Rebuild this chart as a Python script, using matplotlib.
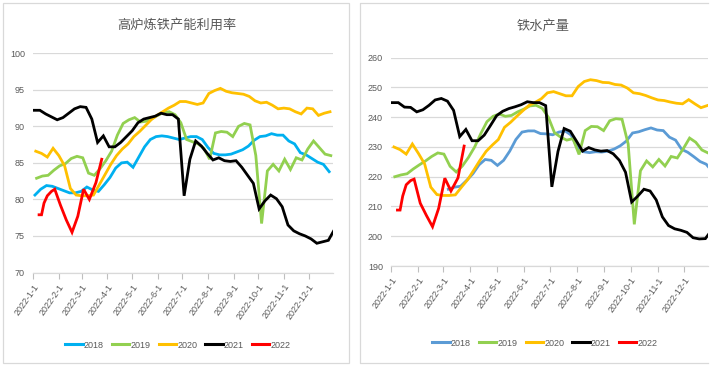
import numpy as np
import pandas as pd
import matplotlib
matplotlib.use('Agg')
import matplotlib.pyplot as plt
from matplotlib.lines import Line2D

plt.rcParams['font.family'] = ['Liberation Sans', 'Noto Sans CJK SC', 'DejaVu Sans']

# --- data -------------------------------------------------------------
years = ['2018', '2019', '2020', '2021', '2022']
month_labels = ['2022-1-1', '2022-2-1', '2022-3-1', '2022-4-1', '2022-5-1', '2022-6-1',
                '2022-7-1', '2022-8-1', '2022-9-1', '2022-10-1', '2022-11-1', '2022-12-1']
month_dates = pd.to_datetime(['2022-01-01', '2022-02-01', '2022-03-01', '2022-04-01',
                              '2022-05-01', '2022-06-01', '2022-07-01', '2022-08-01',
                              '2022-09-01', '2022-10-01', '2022-11-01', '2022-12-01'])

# first weekly date of each year's series (mapped onto 2022)
start_2018 = '2022-01-03'
start_2018_output = '2022-03-07'
start_2019 = '2022-01-05'
start_2020 = '2022-01-04'
start_2021 = '2022-01-02'
dates_2022 = pd.to_datetime(['2022-01-08', '2022-01-11', '2022-01-14', '2022-01-18',
                             '2022-01-23', '2022-01-27', '2022-02-03', '2022-02-10',
                             '2022-02-17', '2022-02-24', '2022-03-03', '2022-03-10',
                             '2022-03-18', '2022-03-25'])

# 高炉炼铁产能利用率 (%)
util_2018 = [80.6, 81.4, 81.9, 81.8, 81.5, 81.2, 80.9, 80.9, 81.1, 81.7, 81.3, 81.1, 82.0,
             83.0, 84.3, 85.0, 85.1, 84.4, 85.8, 87.2, 88.2, 88.6, 88.7, 88.6, 88.4, 88.2,
             88.4, 88.6, 88.6, 88.2, 87.1, 86.3, 86.1, 86.1, 86.2, 86.5, 86.8, 87.3, 88.1,
             88.6, 88.7, 89.0, 88.8, 88.8, 88.0, 87.6, 86.4, 86.1, 85.6, 85.1, 84.8, 83.8]
util_2019 = [82.9, 83.2, 83.3, 84.0, 84.6, 84.9, 85.6, 85.9, 85.7, 83.6, 83.3, 84.2, 85.3,
             86.6, 88.8, 90.4, 90.9, 91.2, 90.6, 90.7, 91.1, 91.5, 91.9, 92.0, 91.6, 90.5,
             88.2, 87.9, 87.6, 87.0, 85.5, 89.1, 89.3, 89.2, 88.6, 90.0, 90.4, 90.2, 86.0,
             76.7, 83.9, 84.8, 83.9, 85.5, 84.1, 85.7, 85.4, 86.9, 88.0, 87.1, 86.2, 86.0]
util_2020 = [86.6, 86.3, 85.8, 87.0, 86.0, 84.6, 81.5, 80.6, 80.5, 80.5, 80.6, 82.0, 83.4,
             84.8, 86.0, 86.9, 87.6, 88.6, 89.3, 90.1, 90.9, 91.5, 92.0, 92.5, 92.9, 93.4,
             93.4, 93.2, 93.0, 93.2, 94.5, 94.9, 95.2, 94.8, 94.6, 94.5, 94.4, 94.1, 93.5,
             93.2, 93.3, 92.9, 92.4, 92.5, 92.4, 92.0, 91.7, 92.5, 92.4, 91.5, 91.8, 92.0]
util_2021 = [92.2, 92.2, 91.7, 91.3, 90.9, 91.2, 91.8, 92.4, 92.7, 92.6, 91.0, 87.8, 88.7,
             87.2, 87.2, 87.8, 88.6, 89.4, 90.5, 91.0, 91.2, 91.4, 91.8, 91.6, 91.6, 91.0,
             80.5, 85.5, 88.0, 87.3, 86.3, 85.4, 85.7, 85.3, 85.2, 85.3, 84.4, 83.3, 82.2,
             78.7, 79.8, 80.6, 80.1, 79.0, 76.5, 75.7, 75.3, 75.0, 74.6, 74.0, 74.2, 74.4,
             75.8]
util_2022 = [77.9, 77.9, 79.5, 80.5, 81.1, 81.4, 79.2, 77.2, 75.5, 77.7, 81.4, 80.0, 82.3,
             85.5]

# 铁水产量 (万吨)
iron_2018 = [215.8, 216.5, 216.8, 218.8, 221.0, 224.0, 225.8, 225.5, 223.8, 225.5, 228.6,
             232.5, 235.0, 235.4, 235.4, 234.5, 234.4, 234.1, 235.0, 235.4, 234.0, 229.8,
             228.4, 228.1, 228.4, 228.3, 228.6, 229.3, 230.4, 232.0, 234.7, 235.1, 235.8,
             236.4, 235.7, 235.5, 233.3, 232.3, 229.2, 228.2, 226.7, 225.1, 224.2, 221.7]
iron_2019 = [220.0, 220.6, 221.0, 222.6, 224.0, 225.3, 226.8, 228.0, 227.6, 223.5, 221.6,
             223.6, 226.5, 230.0, 234.5, 238.5, 240.3, 241.1, 240.3, 240.6, 241.8, 242.7,
             243.8, 244.0, 243.0, 240.0, 234.8, 233.3, 232.3, 232.8, 227.5, 235.5, 236.9,
             236.8, 235.5, 238.8, 239.5, 239.3, 231.0, 204.0, 222.0, 225.3, 223.3, 225.8,
             223.6, 226.8, 226.3, 229.5, 233.0, 231.6, 229.0, 228.0]
iron_2020 = [230.0, 229.1, 227.6, 231.0, 227.8, 224.3, 216.5, 214.0, 213.7, 213.7, 213.9,
             216.5, 219.0, 222.2, 225.5, 228.5, 230.6, 232.5, 236.6, 238.3, 240.3, 242.2,
             244.0, 245.0, 246.2, 248.2, 248.6, 247.9, 247.2, 247.2, 250.3, 252.0, 252.6,
             252.3, 251.7, 251.6, 251.0, 250.8, 249.8, 248.2, 247.9, 247.3, 246.5, 245.8,
             245.6, 245.1, 244.7, 244.5, 245.9, 244.5, 243.2, 243.9]
iron_2021 = [244.9, 244.9, 243.4, 243.3, 241.8, 242.5, 244.0, 245.8, 246.3, 245.4, 242.3,
             233.5, 235.9, 232.1, 232.1, 234.0, 237.2, 240.5, 242.0, 242.9, 243.5, 244.2,
             245.2, 244.9, 244.9, 243.9, 216.6, 228.5, 236.2, 235.3, 232.0, 228.6, 229.8,
             229.0, 228.6, 228.8, 227.7, 225.5, 221.5, 211.5, 213.5, 215.8, 215.2, 212.2,
             206.5, 203.6, 202.5, 202.0, 201.3, 199.5, 199.1, 199.2, 202.0]
iron_2022 = [208.8, 208.8, 213.5, 217.3, 218.7, 219.2, 211.1, 207.0, 203.2, 209.4, 219.5,
             215.2, 219.6, 230.3]

util_ticks = [70, 75, 80, 85, 90, 95, 100]
iron_ticks = [190, 200, 210, 220, 230, 240, 250, 260]

left_colors = ['#00B0F0', '#92D050', '#FFC000', '#000000', '#FF0000']
right_colors = ['#5B9BD5', '#92D050', '#FFC000', '#000000', '#FF0000']


def weekly(start, values):
    return pd.date_range(start, periods=len(values), freq='7D')


def draw_panel(ax, series, colors, yticks, xmax):
    for (x, y), c in zip(series, colors):
        ax.plot(x, y, color=c, lw=2.0, solid_joinstyle='miter', clip_on=True)
    ax.set_ylim(yticks[0], yticks[-1])
    ax.set_yticks(yticks)
    ax.set_xlim(pd.Timestamp('2022-01-01'), pd.Timestamp(xmax))
    ax.set_xticks(month_dates)
    ax.set_xticklabels(month_labels, rotation=55, ha='right', va='top',
                       rotation_mode='anchor', fontsize=6.5, color='#595959')
    ax.tick_params(axis='y', length=0, pad=6, labelsize=6.5, labelcolor='#595959')
    ax.tick_params(axis='x', length=4, width=0.8, color='#bfbfbf', pad=3)
    ax.grid(axis='y', color='#d9d9d9', lw=0.9)
    ax.set_axisbelow(True)
    for side in ['top', 'right', 'left']:
        ax.spines[side].set_visible(False)
    ax.spines['bottom'].set_color('#d9d9d9')
    ax.spines['bottom'].set_linewidth(0.9)


W, H = 718, 369
fig = plt.figure(figsize=(W / 100, H / 100), dpi=100)

# left panel
ax1 = fig.add_axes([33.3 / W, 1 - 272.5 / H, 300 / W, 219.2 / H])
left_series = [(weekly(start_2018, util_2018), util_2018),
               (weekly(start_2019, util_2019), util_2019),
               (weekly(start_2020, util_2020), util_2020),
               (weekly(start_2021, util_2021), util_2021),
               (dates_2022, util_2022)]
draw_panel(ax1, left_series, left_colors, util_ticks, '2022-12-31')

# right panel
ax2 = fig.add_axes([391.3 / W, 1 - 266 / H, 316.7 / W, 208.3 / H])
right_series = [(weekly(start_2018_output, iron_2018), iron_2018),
                (weekly(start_2019, iron_2019), iron_2019),
                (weekly(start_2020, iron_2020), iron_2020),
                (weekly(start_2021, iron_2021), iron_2021),
                (dates_2022, iron_2022)]
draw_panel(ax2, right_series, right_colors, iron_ticks, '2022-12-28')

# titles
fig.text(177 / W, 1 - 25 / H, '高炉炼铁产能利用率', ha='center', va='center',
         fontsize=9.5, color='#595959')
fig.text(543 / W, 1 - 26 / H, '铁水产量', ha='center', va='center',
         fontsize=9.5, color='#595959')

# legends
for colors, cx, cy in [(left_colors, 178, 345), (right_colors, 545, 343)]:
    handles = [Line2D([], [], color=c, lw=2.2) for c in colors]
    fig.legend(handles, years, loc='center', bbox_to_anchor=(cx / W, 1 - cy / H),
               ncol=5, frameon=False, fontsize=6.5, handlelength=1.9,
               handletextpad=0.15, columnspacing=0.9, labelcolor='#595959')

# panel borders
border = '#d9d9d9'
fig.add_artist(plt.Rectangle((3 / W, 1 - 363 / H), 346 / W, 360 / H,
                             transform=fig.transFigure, fill=False, ec=border, lw=0.9))
for xs, ys in [([708, 360, 360, 708], [3, 3, 363, 363])]:
    fig.add_artist(Line2D([x / W for x in xs], [1 - y / H for y in ys],
                          transform=fig.transFigure, color=border, lw=0.9))

fig.savefig('out.png', dpi=100)
